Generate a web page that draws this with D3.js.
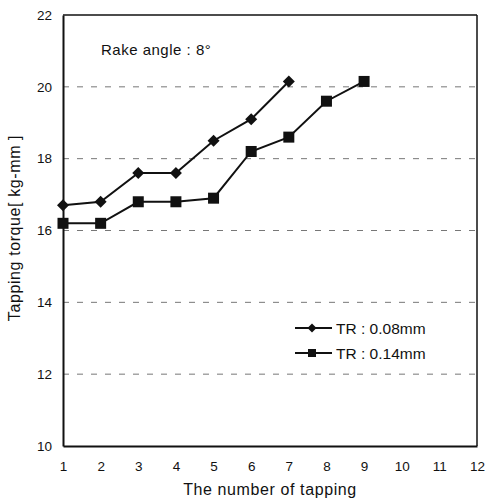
<!DOCTYPE html>
<html><head><meta charset="utf-8">
<script src="https://cdn.jsdelivr.net/npm/d3@7"></script>
<style>body{margin:0;background:#fff}svg{display:block}text{font-family:"Liberation Sans",Arial,sans-serif;fill:#111}</style>
</head><body><svg id="c" width="486" height="502"></svg>
<script>
const xValues = [1,2,3,4,5,6,7,8,9];
const tr008 = [16.7,16.8,17.6,17.6,18.5,19.1,20.15];
const tr014 = [16.2,16.2,16.8,16.8,16.9,18.2,18.6,19.6,20.15];
const seriesNames = ["TR : 0.08mm","TR : 0.14mm"];
const xTicks = [1,2,3,4,5,6,7,8,9,10,11,12];
const yTicks = [10,12,14,16,18,20,22];
const gridTicks = [12,14,16,18,20];

const svg = d3.select("#c");
const L=63,R=477,T=15,B=446;
const x = d3.scaleLinear().domain([1,12]).range([L,R]);
const y = d3.scaleLinear().domain([10,22]).range([B,T]);

// grid
svg.append("g").selectAll("line").data(gridTicks).join("line")
  .attr("x1",L).attr("x2",R).attr("y1",d=>y(d)).attr("y2",d=>y(d))
  .attr("stroke","#777").attr("stroke-width",1).attr("stroke-dasharray","6,8");

// frame
svg.append("line").attr("x1",L).attr("x2",R).attr("y1",T).attr("y2",T).attr("stroke","#111").attr("stroke-width",1.5);
svg.append("line").attr("x1",R).attr("x2",R).attr("y1",T).attr("y2",B).attr("stroke","#111").attr("stroke-width",1.5);

// axes
const yAxis = d3.axisLeft(y).tickValues(yTicks).tickSize(0).tickPadding(11).tickFormat(d3.format("d"));
const gy = svg.append("g").attr("transform",`translate(${L},0)`).call(yAxis);
gy.select(".domain").attr("stroke","#111").attr("stroke-width",2);
gy.selectAll("text").attr("font-size",13.5).style("font-family","Liberation Sans, Arial, sans-serif").attr("fill","#111");

const xAxis = d3.axisBottom(x).tickValues(xTicks).tickSize(0).tickPadding(15).tickFormat(d3.format("d"));
const gx = svg.append("g").attr("transform",`translate(0,${B})`).call(xAxis);
gx.select(".domain").attr("stroke","#111").attr("stroke-width",2);
gx.selectAll("text").attr("font-size",13.5).style("font-family","Liberation Sans, Arial, sans-serif").attr("fill","#111");

// titles
svg.append("text").attr("x",270).attr("y",495).attr("text-anchor","middle").attr("font-size",16).attr("letter-spacing",0.6).text("The number of tapping");
svg.append("text").attr("transform",`translate(20,228) rotate(-90)`).attr("text-anchor","middle").attr("font-size",16).attr("letter-spacing",0.6).text("Tapping torque[ kg-mm ]");
svg.append("text").attr("x",101).attr("y",55).attr("font-size",15).attr("letter-spacing",0.5).text("Rake angle : 8°");

const line = d3.line().x((d,i)=>x(xValues[i])).y(d=>y(d));

function drawSeries(data, kind){
  svg.append("path").datum(data).attr("d",line).attr("fill","none").attr("stroke","#111").attr("stroke-width",2);
  const g = svg.append("g");
  if(kind==="d"){
    g.selectAll("path").data(data).join("path")
      .attr("d","M0,-6L6,0L0,6L-6,0Z")
      .attr("transform",(d,i)=>`translate(${x(xValues[i])},${y(d)})`).attr("fill","#111");
  } else {
    g.selectAll("rect").data(data).join("rect")
      .attr("x",(d,i)=>x(xValues[i])-5.5).attr("y",d=>y(d)-5.5).attr("width",11).attr("height",11).attr("fill","#111");
  }
}
drawSeries(tr008,"d");
drawSeries(tr014,"s");

// legend
const lg = svg.append("g");
const ly=[328,353];
seriesNames.forEach((n,i)=>{
  lg.append("line").attr("x1",295).attr("x2",332).attr("y1",ly[i]).attr("y2",ly[i]).attr("stroke","#111").attr("stroke-width",2);
  if(i===0) lg.append("path").attr("d","M0,-4.5L4.5,0L0,4.5L-4.5,0Z").attr("transform",`translate(312,${ly[i]})`).attr("fill","#111");
  else lg.append("rect").attr("x",308).attr("y",ly[i]-4).attr("width",8).attr("height",8).attr("fill","#111");
  lg.append("text").attr("x",336).attr("y",ly[i]+5.5).attr("font-size",15.5).text(n);
});
</script></body></html>
